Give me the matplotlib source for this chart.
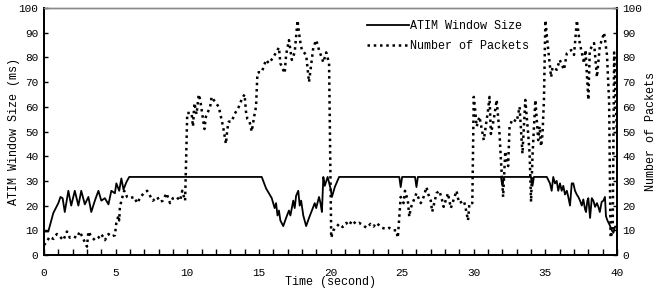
import numpy as np
import matplotlib
matplotlib.use("Agg")
import matplotlib.pyplot as plt
from matplotlib.ticker import MultipleLocator

plt.rcParams['font.family'] = ['Liberation Mono', 'DejaVu Sans Mono']

# ATIM window size (ms)
atim_t = [0, 0.3, 0.65, 1.0, 1.15, 1.3, 1.45, 1.7, 1.9, 2.15, 2.4, 2.6, 2.85, 3.1, 3.3, 3.55,
          3.8, 4.0, 4.25, 4.5, 4.7, 4.95, 5.05, 5.25, 5.4, 5.55, 5.75, 5.95,
          15.2, 15.5, 15.9, 16.1, 16.2, 16.3, 16.4, 16.5, 16.7, 16.9, 17.1, 17.2, 17.4, 17.5,
          17.6, 17.75, 17.85, 17.95, 18.1, 18.3, 18.5, 18.7, 18.9, 19.0, 19.2, 19.3, 19.4,
          19.5, 19.6, 19.8, 20.0, 20.1, 20.3, 20.6,
          24.8, 24.9, 25.0, 25.9, 26.0, 26.1, 31.9, 32.0, 32.1, 34.0, 34.1, 34.2, 35.1,
          35.32, 35.44, 35.55, 35.67, 35.79, 35.9, 36.02, 36.14, 36.25, 36.37, 36.5, 36.6,
          36.72, 36.84, 36.95, 37.07, 37.19, 37.3, 37.42, 37.54, 37.65, 37.77, 37.84, 37.93,
          38.0, 38.12, 38.24, 38.35, 38.47, 38.6, 38.7, 38.8, 38.93, 39.05, 39.16, 39.23,
          39.33, 39.5, 39.63, 39.75, 39.86, 40.0]
atim_v = [9.5, 9.5, 17, 21, 23.5, 23, 17.4, 26, 20, 26, 20, 26, 20.5, 23.5, 17.4, 22,
          26, 22, 23, 20.5, 26, 25, 29, 26, 31, 26.5, 29.5, 31.6,
          31.6, 27, 23, 19, 21, 16, 18, 14, 11.7, 15, 18, 16, 22, 19,
          24, 26, 20, 22, 16, 11.7, 15, 18, 21, 19, 23.5, 21, 17.4,
          31.6, 28, 31.6, 27, 23.5, 27.5, 31.6,
          31.6, 27.5, 31.6, 31.6, 27.5, 31.6, 31.6, 28, 31.6, 31.6, 28, 31.6, 31.6,
          29, 26, 31.6, 29, 30, 26, 29, 26, 28, 24.5, 26, 23.5,
          20, 29, 29, 26, 24.5, 23.5, 22, 20, 22.5, 18.5, 17.4, 22,
          23, 15, 23, 22, 19.5, 21, 19.5, 17.4, 21.5, 22, 23.5, 15.7,
          14, 12, 10, 9, 11.5, 11.5]

# Number of packets
pkt_t = [0.0, 0.2, 0.4, 0.65, 0.9, 1.1, 1.35, 1.6, 1.8, 2.05, 2.3, 2.5, 2.7, 3.0, 3.1, 3.3,
         3.55, 3.8, 4.0, 4.25, 4.5, 4.7, 4.95, 5.05, 5.2, 5.25, 5.3, 5.45, 5.6, 5.8, 6.0,
         6.3, 6.5, 6.7, 6.95, 7.2, 7.4, 7.6, 7.9, 8.1, 8.3, 8.55, 8.8, 9.0, 9.25, 9.5, 9.65, 9.85,
         10.0, 10.3, 10.4, 10.5, 10.65, 10.8, 10.9, 11.0, 11.2, 11.3, 11.6, 11.7, 12.0, 12.2,
         12.4, 12.5, 12.7, 12.8, 12.9, 13.1, 13.3, 13.6, 13.8, 14.0, 14.1, 14.2, 14.35, 14.5,
         14.7, 14.8, 14.9, 15.0, 15.2, 15.5, 15.7, 16.0, 16.2, 16.4, 16.5, 16.8, 16.9, 17.1,
         17.3, 17.5, 17.7, 17.8, 17.9, 18.0, 18.3, 18.4, 18.5, 18.8, 19.0, 19.2, 19.5, 19.7, 19.9,
         20.05, 20.2, 20.4, 20.6, 20.85, 21.1, 21.3, 21.5, 21.8, 22.0, 22.3, 22.5, 22.8, 23.0,
         23.2, 23.4, 23.6, 23.9, 24.1, 24.4, 24.6, 24.7,
         24.9, 25.1, 25.2, 25.4, 25.5, 25.6, 25.8, 26.0, 26.3, 26.5, 26.7, 26.8, 27.0, 27.1,
         27.4, 27.6, 27.8, 27.9, 28.2, 28.4, 28.8, 28.9, 29.0, 29.3, 29.4, 29.6, 29.7, 29.9,
         30.0, 30.1, 30.2, 30.4, 30.7, 31.0, 31.1, 31.2, 31.4, 31.6, 31.8, 31.9, 32.05, 32.2,
         32.4, 32.5, 32.7, 33.0, 33.2, 33.4, 33.6, 33.8, 33.9, 34.0, 34.1, 34.3, 34.5, 34.6,
         34.7, 34.8, 34.9, 35.0, 35.2, 35.3, 35.4, 35.5, 35.8, 36.0, 36.3, 36.5, 36.8, 37.0,
         37.2, 37.4, 37.7, 37.8, 38.0, 38.1, 38.4, 38.6, 38.8, 39.1, 39.3, 39.45, 39.55, 39.7,
         39.8, 40.0]
pkt_v = [4, 5.5, 7.4, 6.5, 8.5, 7.5, 6, 9.5, 7, 7.5, 7, 9.5, 7, 3.4, 9.5, 7.5,
         6, 7, 8.5, 6, 8.5, 7.5, 8, 13, 16, 14, 19.5, 23, 26, 23.5, 23,
         23.5, 21, 23, 25, 26, 24, 22, 23.5, 21.5, 22, 25, 21, 23, 23.5, 22, 26, 22,
         57.5, 57.5, 52, 61.5, 57, 65, 63, 59, 51, 56, 60, 64, 61.5, 60,
         54.6, 52, 45, 51, 54, 54, 57, 60, 63, 65, 58, 55, 54, 50,
         57, 60, 73.6, 74, 74, 79, 77.6, 80, 82, 84, 77.6, 73.6, 81, 87,
         79, 82, 95, 90, 86, 83, 81, 75.5, 70, 84, 87, 83, 78, 82, 77.6,
         7, 10, 11.3, 12.6, 11.3, 13, 12, 14, 12.5, 13, 12, 11, 12.6, 11.5,
         13, 12, 11, 10.5, 11, 10, 10, 7,
         23.5, 21, 26, 22, 15.5, 19, 22, 25, 21, 23.5, 27.5, 25, 22, 17.5,
         25, 26, 22, 19.5, 25, 19, 26, 23, 21, 22, 20, 14, 21, 21,
         64, 58.7, 52, 56, 46.5, 58.7, 64, 49, 55, 62.8, 49, 38, 23.5, 42,
         36, 52, 55, 54, 60, 41, 62.8, 49, 41, 21.5, 40, 62.8, 46.5, 52,
         44, 49, 62.8, 95, 83, 77.6, 72, 76, 75, 79, 75, 81.7, 83, 81,
         95, 85.8, 77.6, 83, 62.8, 83, 85.8, 72, 84.5, 90, 81, 62, 7, 10,
         82, 48]

x_ticks = [0, 5, 10, 15, 20, 25, 30, 35, 40]
y_ticks = [0, 10, 20, 30, 40, 50, 60, 70, 80, 90, 100]

fig = plt.figure(figsize=(6.67, 2.91), dpi=100)
ax = fig.add_axes([44/667, 36/291, 573/667, 247/291])
ax2 = ax.twinx()

l1, = ax.plot(atim_t, atim_v, color='black', lw=1.3, label='ATIM Window Size')
l2, = ax2.plot(pkt_t, pkt_v, color='black', lw=1.8, linestyle=(0, (1, 1.5)),
               label='Number of Packets')

for a in (ax, ax2):
    a.set_xlim(0, 40)
    a.set_ylim(0, 100)
    a.set_yticks(y_ticks)
    a.spines['top'].set_color('#888888')
    a.spines['top'].set_linewidth(1.0)
    for s in ('left', 'right', 'bottom'):
        a.spines[s].set_linewidth(1.3)
        a.spines[s].set_color('black')

ax.set_xticks(x_ticks)
ax.xaxis.set_minor_locator(MultipleLocator(1))
ax.tick_params(axis='x', which='both', direction='in', length=4, width=1, pad=9, labelsize=8)
ax.tick_params(axis='y', direction='in', length=3, width=1, pad=4, labelsize=8)
ax2.tick_params(axis='y', direction='in', length=3, width=1, pad=4, labelsize=8)

ax.set_xlabel('Time (second)', fontsize=8.5, labelpad=-1)
ax.set_ylabel('ATIM Window Size (ms)', fontsize=8.5, labelpad=-1)
ax2.set_ylabel('Number of Packets', fontsize=8.5, labelpad=2)

leg = ax.legend(handles=[l1, l2], loc='upper left', bbox_to_anchor=(0.555, 0.97),
                frameon=False, fontsize=8.5, handlelength=3.6, handletextpad=0.1,
                labelspacing=0.7, borderaxespad=0)

fig.savefig('out.png', dpi=100)
